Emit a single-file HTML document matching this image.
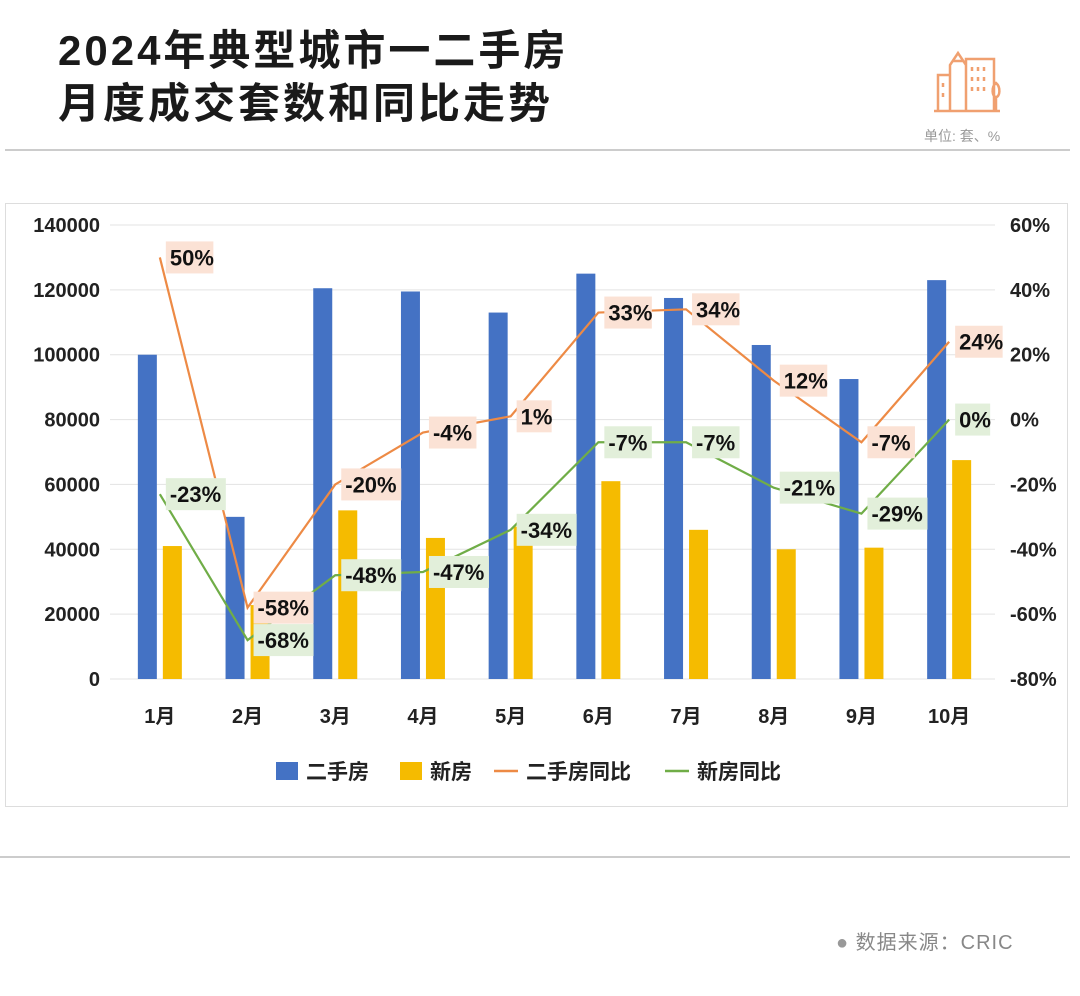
<!DOCTYPE html>
<html><head><meta charset="utf-8">
<style>
body{margin:0;background:#fff;width:1080px;height:996px;overflow:hidden;font-family:"Liberation Sans","Noto Sans CJK SC",sans-serif;}
.t{position:absolute;left:58px;font-size:42px;font-weight:bold;color:#1a1a1a;letter-spacing:3px;line-height:50px;}
</style></head><body>
<div class="t" style="top:26px">2024年典型城市一二手房</div>
<div class="t" style="top:79px">月度成交套数和同比走势</div>
<svg style="position:absolute;left:930px;top:45px" width="72" height="70" viewBox="0 0 72 70" fill="none" stroke="#f0a070" stroke-width="2.5">
<path d="M4 66H70M8 66V30H20V66M20 30V20l8-12 8 12v46M22 16h12M36 66V14h28v52M42 22v4M48 22v4M54 22v4M42 32v4M48 32v4M54 32v4M42 42v4M48 42v4M54 42v4M13 38v4M13 48v4M66 66V52M66 52c-4 0-5-10 0-14 5 4 4 14 0 14"/></svg>
<div style="position:absolute;left:924px;top:126px;font-size:14px;color:#999">单位: 套、%</div>
<div style="position:absolute;left:5px;top:149px;width:1065px;height:2px;background:#ccc"></div>
<div style="position:absolute;left:5px;top:203px;width:1061px;height:602px;border:1px solid #ddd"></div>
<svg id="c" style="position:absolute;left:0;top:0" width="1080" height="996"></svg>
<div style="position:absolute;left:0;top:856px;width:1070px;height:2px;background:#ccc"></div>
<div style="position:absolute;left:836px;top:926px;font-size:20px;color:#888;letter-spacing:1px"><span style="color:#999">●</span> 数据来源：CRIC</div>
<script>
const months=["1月","2月","3月","4月","5月","6月","7月","8月","9月","10月"];
const secondHand=[100000,50000,120500,119500,113000,125000,117500,103000,92500,123000];
const newHome=[41000,22800,52000,43500,47000,61000,46000,40000,40500,67500];
const secondYoY=[50,-58,-20,-4,1,33,34,12,-7,24];
const newYoY=[-23,-68,-48,-47,-34,-7,-7,-21,-29,0];
const leftTicks=[0,20000,40000,60000,80000,100000,120000,140000];
const rightTicks=[-80,-60,-40,-20,0,20,40,60];
const svg=document.getElementById('c');const NS="http://www.w3.org/2000/svg";
function mk(t,a,txt){const e=document.createElementNS(NS,t);for(const k in a)e.setAttribute(k,a[k]);if(txt!==undefined)e.textContent=txt;svg.appendChild(e);return e;}
const y0=679,y1=225,L=116,R=993,step=(R-L)/months.length;
const yL=v=>y0-(v/140000)*(y0-y1);
const yR=v=>y0-((v+80)/140)*(y0-y1);
const xc=i=>L+step*(i+0.5);
leftTicks.forEach(v=>{const g=mk('line',{x1:110,x2:995,y1:yL(v),y2:yL(v),stroke:'#e3e3e3','stroke-width':1});

const t=mk('text',{x:100,y:yL(v)+7,'text-anchor':'end','font-size':20,'font-weight':'bold',fill:'#222'},v);
});
rightTicks.forEach(v=>{const t=mk('text',{x:1010,y:yR(v)+7,'font-size':20,'font-weight':'bold',fill:'#222'},v+'%');
});
months.forEach((m,i)=>{
const b=mk('rect',{x:xc(i)-22,y:yL(secondHand[i]),width:19,height:y0-yL(secondHand[i]),fill:'#4472c4'});

const n=mk('rect',{x:xc(i)+3,y:yL(newHome[i]),width:19,height:y0-yL(newHome[i]),fill:'#f5bb00'});

const t=mk('text',{x:xc(i),y:723,'text-anchor':'middle','font-size':20,'font-weight':'bold',fill:'#222'},m);
});
function line(arr,col,name){const p=mk('polyline',{points:arr.map((v,i)=>xc(i)+','+yR(v)).join(' '),fill:'none',stroke:col,'stroke-width':2.2});
}
line(secondYoY,'#ed8a45','line-second-hand-yoy');line(newYoY,'#70ad47','line-new-home-yoy');
function labels(arr,bg,name){arr.forEach((v,i)=>{const s=v+'%';const w=s.length*12.5+10;
const r=mk('rect',{x:xc(i)+6,y:yR(v)-16,width:w,height:32,fill:bg});

const t=mk('text',{x:xc(i)+10,y:yR(v)+8,'font-size':22,'font-weight':'bold',fill:'#111'},s);
});}
labels(secondYoY,'#fbe2d5','label-second-hand-yoy');labels(newYoY,'#e2efda','label-new-home-yoy');
const leg=[['rect','#4472c4','二手房',276],['rect','#f5bb00','新房',400],['line','#ed8a45','二手房同比',494],['line','#70ad47','新房同比',665]];
leg.forEach(l=>{let m;if(l[0]==='rect')m=mk('rect',{x:l[3],y:762,width:22,height:18,fill:l[1]});
else m=mk('line',{x1:l[3],x2:l[3]+24,y1:771,y2:771,stroke:l[1],'stroke-width':2.5});

const t=mk('text',{x:l[3]+(l[0]==='rect'?30:32),y:779,'font-size':21,'font-weight':'bold',fill:'#222'},l[2]);
});
</script>
</body></html>
